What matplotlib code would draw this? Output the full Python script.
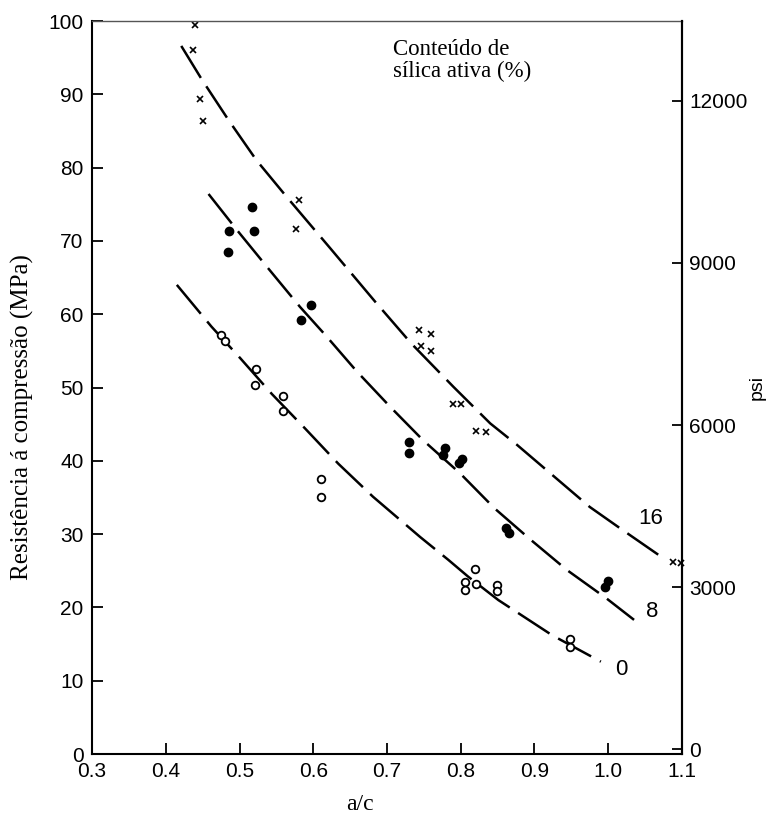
import matplotlib.pyplot as plt

# curvas tracejadas (a/c, resistência em MPa)
curve16_x = [0.421, 0.449, 0.485, 0.523, 0.564, 0.623, 0.684, 0.733, 0.790, 0.840, 0.876, 0.975, 1.016, 1.072]
curve16_y = [96.6, 92.0, 86.5, 81.0, 76.0, 69.0, 61.7, 56.0, 50.1, 45.1, 42.2, 33.7, 30.8, 26.9]
curve8_x = [0.458, 0.498, 0.541, 0.582, 0.616, 0.659, 0.704, 0.749, 0.799, 0.846, 0.894, 0.944, 0.998, 1.035]
curve8_y = [76.4, 71.3, 66.0, 61.0, 57.2, 52.2, 47.4, 42.8, 38.3, 33.5, 29.3, 25.1, 21.2, 18.3]
curve0_x = [0.415, 0.462, 0.501, 0.544, 0.589, 0.634, 0.681, 0.745, 0.783, 0.810, 0.851, 0.924, 0.990]
curve0_y = [64.0, 58.3, 54.0, 49.1, 44.4, 39.6, 35.1, 29.6, 26.5, 24.2, 21.0, 16.2, 12.6]

# pontos experimentais
pts16_x = [0.439, 0.437, 0.447, 0.450, 0.580, 0.577, 0.744, 0.746, 0.759, 0.759,
           0.789, 0.801, 0.821, 0.834, 1.088, 1.098]
pts16_y = [99.5, 96.1, 89.3, 86.3, 75.6, 71.6, 57.9, 55.7, 57.3, 55.0,
           47.7, 47.7, 44.0, 43.9, 26.2, 26.1]
pts8_x = [0.486, 0.485, 0.517, 0.519, 0.597, 0.584, 0.730, 0.730, 0.779, 0.776,
          0.802, 0.797, 0.861, 0.865, 0.996, 0.999]
pts8_y = [71.4, 68.5, 74.6, 71.4, 61.2, 59.2, 42.5, 41.1, 41.7, 40.8,
          40.3, 39.7, 30.8, 30.1, 22.8, 23.6]
pts0_x = [0.475, 0.480, 0.522, 0.521, 0.559, 0.559, 0.611, 0.610, 0.819, 0.821,
          0.806, 0.806, 0.849, 0.849, 0.948, 0.948]
pts0_y = [57.1, 56.3, 52.5, 50.3, 48.8, 46.8, 37.5, 35.0, 25.3, 23.2,
          23.5, 22.4, 23.0, 22.2, 15.7, 14.6]

curve_labels = ['16', '8', '0']
label_x = [1.057, 1.059, 1.018]
label_y = [32.1, 19.4, 11.5]

xticks = [0.3, 0.4, 0.5, 0.6, 0.7, 0.8, 0.9, 1.0, 1.1]
yticks = [0, 10, 20, 30, 40, 50, 60, 70, 80, 90, 100]
psi_ticks = [0, 3000, 6000, 9000, 12000]

sans = 'Liberation Sans'
serif = 'Liberation Serif'

fig = plt.figure(figsize=(7.72, 8.14), dpi=100, facecolor='white')
ax = fig.add_axes([0.1192, 0.0737, 0.7642, 0.9005])

for cx, cy in ((curve16_x, curve16_y), (curve8_x, curve8_y), (curve0_x, curve0_y)):
    ax.plot(cx, cy, color='black', lw=1.8, dashes=(15, 4), solid_capstyle='butt')

ax.plot(pts16_x, pts16_y, ls='none', marker='x', ms=4, mew=1.2, color='black', clip_on=False)
ax.plot(pts8_x, pts8_y, ls='none', marker='o', ms=6, color='black')
ax.plot(pts0_x, pts0_y, ls='none', marker='o', ms=5.5, mfc='white', mec='black', mew=1.3)

for t, lx, ly in zip(curve_labels, label_x, label_y):
    ax.text(lx, ly, t, fontsize=16, family=sans, ha='center', va='center')

ax.text(0.708, 97.6, 'Conteúdo de\nsílica ativa (%)', fontsize=16.5, family=serif,
        ha='left', va='top', linespacing=1.1)

ax.set_xlim(0.3, 1.1)
ax.set_ylim(0, 100)
ax.set_xticks(xticks)
ax.set_xticklabels(['%.1f' % v for v in xticks])
ax.set_yticks(yticks)
ax.tick_params(direction='in', length=8, width=1.3, labelsize=15, pad=6, top=False, right=False)
for lab in ax.get_xticklabels() + ax.get_yticklabels():
    lab.set_family(sans)
for s in ax.spines.values():
    s.set_linewidth(1.5)
ax.spines['top'].set_linewidth(1.0)
ax.spines['top'].set_color('#555555')

# eixo secundário em psi
ax2 = ax.twinx()
ax2.set_ylim(-90, 13480)
ax2.set_yticks(psi_ticks)
ax2.tick_params(direction='in', length=7, width=1.3, labelsize=15, pad=5)
for lab in ax2.get_yticklabels():
    lab.set_family(sans)
ax2.set_ylabel('psi', fontsize=14, family=sans, labelpad=1)
for s in ax2.spines.values():
    s.set_visible(False)
ax2.spines['right'].set_visible(True)
ax2.spines['right'].set_linewidth(1.5)

fig.text(22 / 772, 1 - 417 / 814, 'Resistência á compressão (MPa)', rotation=90,
         fontsize=18, family=serif, ha='center', va='center')
fig.text(360 / 772, 1 - 805 / 814, 'a/c', fontsize=17, family=serif, ha='center', va='center')

fig.savefig('out.png', dpi=100, facecolor='white')
